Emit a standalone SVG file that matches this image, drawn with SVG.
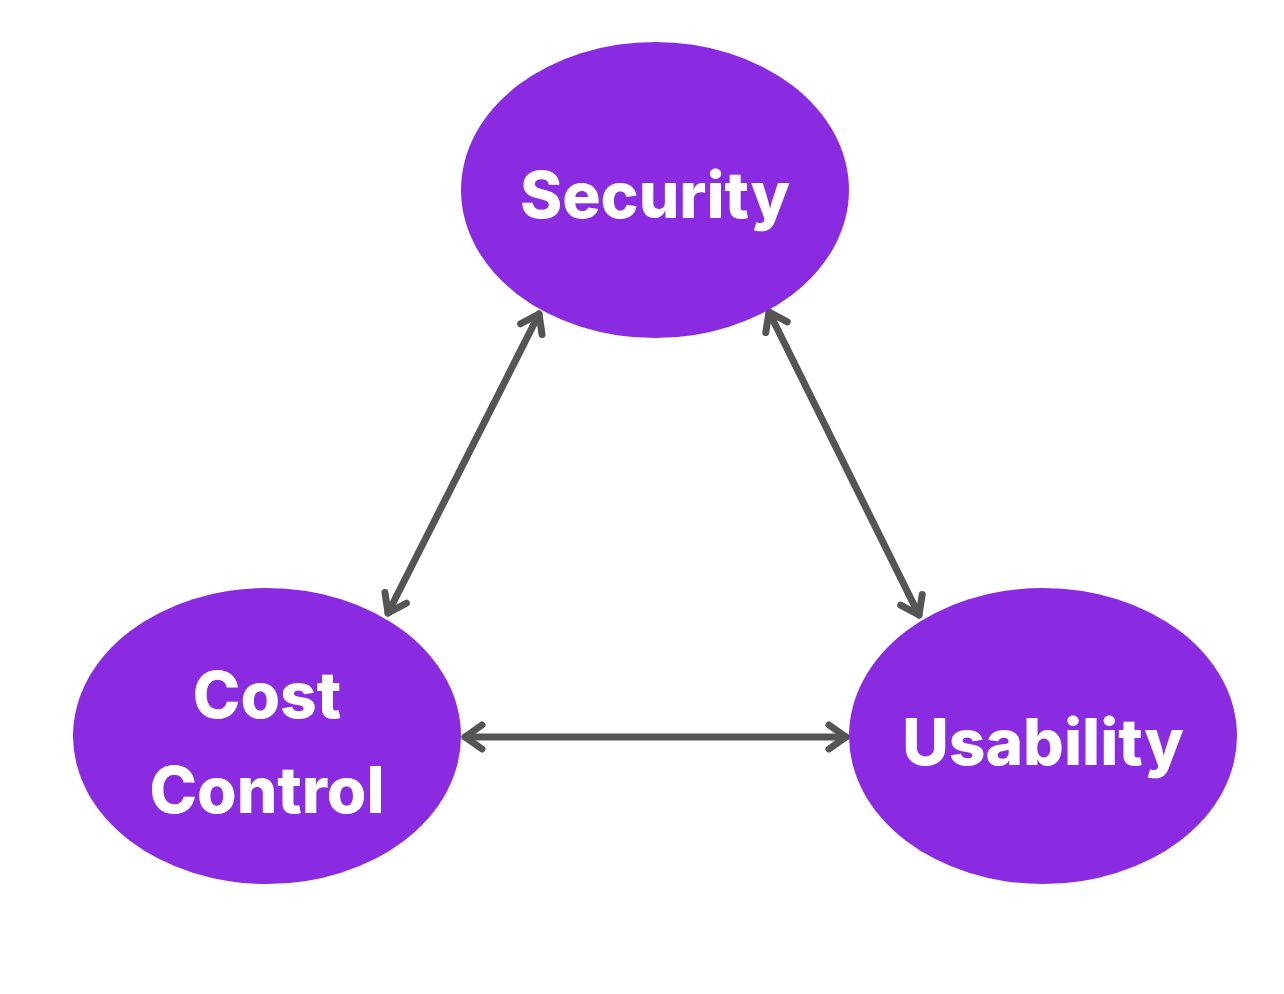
<svg xmlns="http://www.w3.org/2000/svg" width="1284" height="994" viewBox="0 0 1284 994">
<style>
.node{fill:#8A2BE2;}
.lbl{fill:#ffffff;font-family:Inter,"Noto Sans","Liberation Sans",sans-serif;font-weight:800;font-size:64px;text-anchor:middle;}
.conn{stroke:#555555;stroke-width:7;fill:none;stroke-linecap:round;}
</style>
<defs>
<marker id="chev" markerUnits="userSpaceOnUse" viewBox="-30 -20 40 40" markerWidth="40" markerHeight="40" refX="0" refY="0" orient="auto-start-reverse" overflow="visible">
<path d="M -17 -12 L 0 0 L -17 12" fill="none" stroke="#555555" stroke-width="7" stroke-linecap="round" stroke-linejoin="round"/>
</marker>
</defs>
<rect width="1284" height="994" fill="#ffffff"/>
<g id="connectors">
<line class="conn" x1="539" y1="314" x2="388" y2="613" marker-start="url(#chev)" marker-end="url(#chev)"/>
<line class="conn" x1="769" y1="312" x2="919" y2="615" marker-start="url(#chev)" marker-end="url(#chev)"/>
<line class="conn" x1="465" y1="737" x2="846" y2="737" marker-start="url(#chev)" marker-end="url(#chev)"/>
</g>
<g id="security">
<ellipse class="node" cx="655" cy="190" rx="194" ry="148"/>
<text class="lbl" x="655" y="218">Security</text>
</g>
<g id="cost-control">
<ellipse class="node" cx="267" cy="736" rx="194" ry="148"/>
<text class="lbl" x="267" y="718">Cost</text>
<text class="lbl" x="267" y="813">Control</text>
</g>
<g id="usability">
<ellipse class="node" cx="1043" cy="736" rx="194" ry="148"/>
<text class="lbl" x="1043" y="765">Usability</text>
</g>
</svg>
